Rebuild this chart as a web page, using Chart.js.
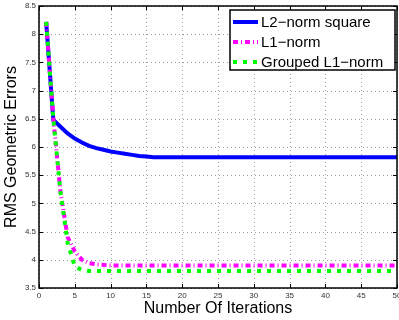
<!DOCTYPE html>
<html>
<head>
<meta charset="utf-8">
<script src="https://cdn.jsdelivr.net/npm/chart.js@4.4.0/dist/chart.umd.min.js"></script>
<style>
  html, body { margin: 0; padding: 0; background: #fff; }
  #wrap { width: 399px; height: 320px; }
</style>
</head>
<body>
<div id="wrap"><canvas id="rmsChart"></canvas></div>
<script>
// values
const iterations = [1, 2, 3, 4, 5, 6, 7, 8, 9, 10, 11, 12, 13, 14, 15, 16, 17, 18, 19, 20,
    21, 22, 23, 24, 25, 26, 27, 28, 29, 30, 31, 32, 33, 34, 35, 36, 37, 38, 39, 40,
    41, 42, 43, 44, 45, 46, 47, 48, 49, 50];
const l2Square = [8.22, 6.48, 6.36, 6.24, 6.15, 6.08, 6.02, 5.98, 5.95, 5.92, 5.9, 5.88, 5.86, 5.84, 5.83,
    5.82, 5.82, 5.82, 5.82, 5.82, 5.82, 5.82, 5.82, 5.82, 5.82, 5.82, 5.82, 5.82, 5.82, 5.82,
    5.82, 5.82, 5.82, 5.82, 5.82, 5.82, 5.82, 5.82, 5.82, 5.82, 5.82, 5.82, 5.82, 5.82, 5.82,
    5.82, 5.82, 5.82, 5.82, 5.82];
const l1Norm = [8.22, 6.5, 5.2, 4.4, 4.15, 4.0, 3.94, 3.92, 3.91, 3.9, 3.9, 3.9, 3.9, 3.9, 3.9,
    3.9, 3.9, 3.9, 3.9, 3.9, 3.9, 3.9, 3.9, 3.9, 3.9, 3.9, 3.9, 3.9, 3.9, 3.9,
    3.9, 3.9, 3.9, 3.9, 3.9, 3.9, 3.9, 3.9, 3.9, 3.9, 3.9, 3.9, 3.9, 3.9, 3.9,
    3.9, 3.9, 3.9, 3.9, 3.9];
const groupedL1 = [8.22, 6.5, 5.2, 4.3, 3.88, 3.82, 3.8, 3.8, 3.8, 3.8, 3.8, 3.8, 3.8, 3.8, 3.8,
    3.8, 3.8, 3.8, 3.8, 3.8, 3.8, 3.8, 3.8, 3.8, 3.8, 3.8, 3.8, 3.8, 3.8, 3.8,
    3.8, 3.8, 3.8, 3.8, 3.8, 3.8, 3.8, 3.8, 3.8, 3.8, 3.8, 3.8, 3.8, 3.8, 3.8,
    3.8, 3.8, 3.8, 3.8, 3.8];
const seriesNames = ['L2\u2212norm square', 'L1\u2212norm', 'Grouped L1\u2212norm'];
const xTicks = [0, 5, 10, 15, 20, 25, 30, 35, 40, 45, 50];
const yTicks = [3.5, 4, 4.5, 5, 5.5, 6, 6.5, 7, 7.5, 8, 8.5];

const lineStyles = [
    { color: '#0000ff', dash: [] },
    { color: '#ff00ff', dash: [5, 3, 1, 3] },
    { color: '#00ff00', dash: [4, 6] }
];

function toPoints(values) {
    return values.map((v, i) => ({ x: iterations[i], y: v }));
}

// matlab style box, dotted grid, inward ticks
const matlabAxes = {
    id: 'matlabAxes',
    beforeDatasetsDraw(chart) {
        const { ctx, chartArea: a, scales: { x, y } } = chart;
        ctx.save();
        ctx.strokeStyle = '#9a9a9a';
        ctx.lineWidth = 1;
        ctx.setLineDash([1, 3]);
        xTicks.forEach(t => {
            const px = Math.round(x.getPixelForValue(t)) + 0.5;
            ctx.beginPath(); ctx.moveTo(px, a.top); ctx.lineTo(px, a.bottom); ctx.stroke();
        });
        yTicks.forEach(t => {
            const py = Math.round(y.getPixelForValue(t)) + 0.5;
            ctx.beginPath(); ctx.moveTo(a.left, py); ctx.lineTo(a.right, py); ctx.stroke();
        });
        ctx.restore();
    },
    afterDatasetsDraw(chart) {
        const { ctx, chartArea: a, scales: { x, y } } = chart;
        ctx.save();
        ctx.strokeStyle = '#000';
        ctx.lineWidth = 1;
        ctx.setLineDash([]);
        const len = 4;
        xTicks.forEach(t => {
            const px = Math.round(x.getPixelForValue(t)) + 0.5;
            ctx.beginPath();
            ctx.moveTo(px, a.bottom); ctx.lineTo(px, a.bottom - len);
            ctx.moveTo(px, a.top); ctx.lineTo(px, a.top + len);
            ctx.stroke();
        });
        yTicks.forEach(t => {
            const py = Math.round(y.getPixelForValue(t)) + 0.5;
            ctx.beginPath();
            ctx.moveTo(a.left, py); ctx.lineTo(a.left + len, py);
            ctx.moveTo(a.right, py); ctx.lineTo(a.right - len, py);
            ctx.stroke();
        });
        ctx.lineWidth = 1.5;
        ctx.strokeRect(a.left, a.top, a.right - a.left, a.bottom - a.top);
        ctx.restore();
    }
};

// legend box in the upper right corner
const boxLegend = {
    id: 'boxLegend',
    afterDraw(chart) {
        const { ctx } = chart;
        const left = 230, top = 10, right = 395, bottom = 70;
        ctx.save();
        ctx.fillStyle = '#fff';
        ctx.fillRect(left, top, right - left, bottom - top);
        ctx.strokeStyle = '#000';
        ctx.lineWidth = 1.5;
        ctx.strokeRect(left, top, right - left, bottom - top);
        ctx.font = '15px "Liberation Sans", Arial, sans-serif';
        ctx.textBaseline = 'middle';
        ctx.fillStyle = '#000';
        seriesNames.forEach((name, i) => {
            const yy = 22 + i * 20;
            ctx.strokeStyle = lineStyles[i].color;
            ctx.lineWidth = 4;
            ctx.setLineDash(lineStyles[i].dash);
            ctx.beginPath(); ctx.moveTo(233, yy); ctx.lineTo(258, yy); ctx.stroke();
            ctx.setLineDash([]);
            ctx.fillText(name, 261, yy + 1);
        });
        ctx.restore();
    }
};

const datasets = [l2Square, l1Norm, groupedL1].map((vals, i) => ({
    label: seriesNames[i],
    data: toPoints(vals),
    borderColor: lineStyles[i].color,
    borderDash: lineStyles[i].dash,
    borderWidth: 4,
    pointRadius: 0,
    tension: 0,
    fill: false,
    order: 3 - i
}));

new Chart(document.getElementById('rmsChart'), {
    type: 'line',
    data: { datasets },
    options: {
        responsive: true,
        maintainAspectRatio: false,
        animation: false,
        events: [],
        layout: { padding: { top: 6, right: 2, left: 0, bottom: 0 } },
        plugins: { legend: { display: false }, tooltip: { enabled: false } },
        scales: {
            x: {
                type: 'linear',
                min: 0, max: 50,
                afterBuildTicks: s => { s.ticks = xTicks.map(v => ({ value: v })); },
                afterFit: s => { s.height = 32; s.paddingLeft = 0; s.paddingRight = 0; },
                grid: { display: false, drawTicks: false },
                border: { display: false },
                ticks: {
                    padding: 3,
                    maxRotation: 0,
                    color: '#333',
                    font: { family: '"Liberation Sans", Arial, sans-serif', size: 8 }
                },
                title: {
                    display: true,
                    text: 'Number Of Iterations',
                    color: '#000',
                    padding: { top: 0, bottom: 2 },
                    font: { family: '"Liberation Sans", Arial, sans-serif', size: 16 }
                }
            },
            y: {
                type: 'linear',
                min: 3.5, max: 8.5,
                afterBuildTicks: s => { s.ticks = yTicks.map(v => ({ value: v })); },
                afterFit: s => { s.width = 39; s.paddingTop = 0; s.paddingBottom = 0; },
                grid: { display: false, drawTicks: false },
                border: { display: false },
                ticks: {
                    padding: 3,
                    color: '#333',
                    callback: v => String(v),
                    font: { family: '"Liberation Sans", Arial, sans-serif', size: 8 }
                },
                title: {
                    display: true,
                    text: 'RMS Geometric Errors',
                    color: '#000',
                    padding: { top: 2, bottom: 0 },
                    font: { family: '"Liberation Sans", Arial, sans-serif', size: 16 }
                }
            }
        }
    },
    plugins: [matlabAxes, boxLegend]
});
</script>
</body>
</html>
